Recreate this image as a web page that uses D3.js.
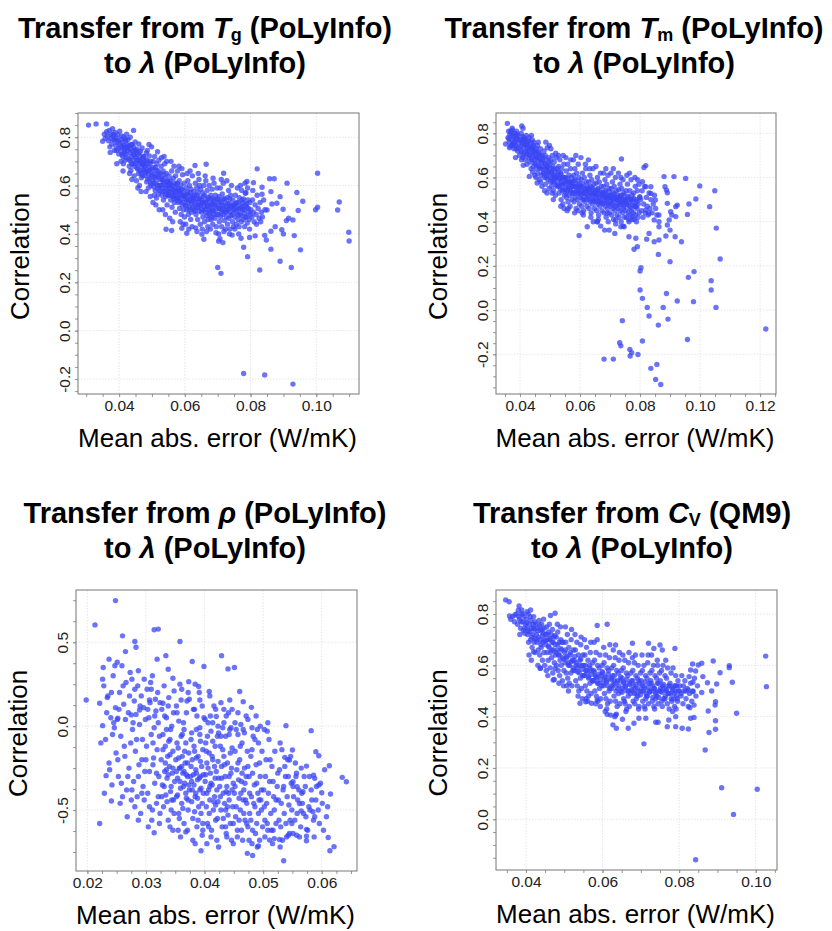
<!DOCTYPE html>
<html>
<head>
<meta charset="utf-8">
<script src="https://cdn.jsdelivr.net/npm/d3@7"></script>
<style>
body { margin: 0; background: #fff; }
svg text { font-family: "Liberation Sans", Arial, Helvetica, sans-serif; }
</style>
</head>
<body>
<svg id="chart" width="832" height="931"></svg>
<script>
// points: [mean abs. error, correlation]
var tgPoints = [
[.0355,.812],[.0358,.795],[.0362,.823],[.0365,.805],[.0368,.785],[.037,.828],[.0372,.76],[.0375,.812],[.0376,.795],[.0378,.772],[.038,.835],[.0382,.805],[.0384,.788],[.0386,.745],[.0388,.82],[.039,.765],[.0391,.798],[.0393,.69],[.0394,.778],[.0396,.81],[.0398,.752],[.0399,.73],
[.0402,.825],[.0404,.79],[.0405,.76],[.0407,.742],[.0408,.805],[.041,.778],[.0411,.72],[.0413,.69],[.0414,.8],[.0415,.765],[.0417,.748],[.0418,.705],[.042,.785],[.0421,.73],[.0423,.812],[.0424,.77],[.0412,.66],[.0419,.755],[.0406,.70],[.0416,.735],
[.0426,.745],[.0427,.79],[.0429,.71],[.043,.765],[.0431,.68],[.0433,.735],[.0434,.80],[.0435,.752],[.0437,.72],[.0438,.69],[.044,.77],[.0441,.742],[.0442,.705],[.0444,.76],[.0445,.728],[.0447,.68],[.0448,.745],[.0449,.78],[.0432,.65],[.0446,.64],[.0439,.625],[.0436,.662],
[.0451,.715],[.0452,.69],[.0454,.75],[.0455,.672],[.0456,.73],[.0458,.705],[.0459,.65],[.046,.772],[.0461,.69],[.0463,.72],[.0464,.66],[.0465,.742],[.0466,.70],[.0468,.632],[.0469,.68],[.047,.755],[.0471,.712],[.0473,.665],[.0474,.69],[.0453,.62],[.0462,.60],[.0467,.575],[.0472,.64],[.0457,.59],
[.0476,.72],[.0477,.66],[.0479,.70],[.048,.64],[.0481,.682],[.0483,.735],[.0484,.615],[.0485,.662],[.0487,.70],[.0488,.65],[.0489,.59],[.049,.68],[.0492,.722],[.0493,.63],[.0494,.665],[.0496,.61],[.0497,.70],[.0498,.64],[.0499,.76],[.0482,.575],[.0495,.555],[.0486,.745],[.0491,.77],
[.0501,.668],[.0502,.62],[.0504,.70],[.0505,.595],[.0506,.65],[.0508,.72],[.0509,.63],[.051,.58],[.0511,.675],[.0513,.61],[.0514,.548],[.0515,.69],[.0516,.64],[.0518,.60],[.0519,.66],[.052,.565],[.0521,.705],[.0523,.625],[.0524,.58],[.0503,.53],[.0512,.52],[.0517,.74],[.0522,.50],[.0507,.56],
[.0526,.65],[.0527,.60],[.0528,.68],[.053,.56],[.0531,.625],[.0532,.59],[.0534,.66],[.0535,.54],[.0536,.61],[.0538,.575],[.0539,.69],[.054,.63],[.0542,.555],[.0543,.60],[.0544,.65],[.0546,.52],[.0547,.58],[.0548,.62],[.0549,.56],[.0533,.50],[.0541,.48],[.0545,.70],[.0537,.72],[.0529,.715],
[.0551,.60],[.0552,.64],[.0553,.56],[.0555,.59],[.0556,.62],[.0557,.54],[.0559,.575],[.056,.66],[.0561,.51],[.0562,.60],[.0564,.555],[.0565,.63],[.0566,.58],[.0568,.53],[.0569,.61],[.057,.56],[.0571,.49],[.0573,.59],[.0574,.545],[.0554,.465],[.0563,.45],[.0567,.68],[.0572,.64],[.0558,.70],
[.0576,.57],[.0577,.61],[.0579,.53],[.058,.59],[.0581,.55],[.0583,.62],[.0584,.505],[.0585,.575],[.0587,.54],[.0588,.60],[.0589,.48],[.059,.56],[.0592,.52],[.0593,.645],[.0594,.58],[.0596,.50],[.0597,.555],[.0598,.61],[.0599,.47],[.0578,.66],[.0586,.45],[.0595,.44],[.0582,.68],[.0591,.67],
[.0601,.56],[.0602,.52],[.0604,.59],[.0605,.54],[.0606,.50],[.0608,.575],[.0609,.62],[.061,.53],[.0611,.48],[.0613,.56],[.0614,.60],[.0615,.51],[.0617,.545],[.0618,.46],[.0619,.585],[.062,.525],[.0621,.49],[.0623,.64],[.0624,.555],[.0603,.44],[.0612,.42],[.0616,.66],[.0622,.43],[.0607,.65],
[.0626,.54],[.0627,.575],[.0628,.50],[.063,.56],[.0631,.52],[.0632,.61],[.0634,.48],[.0635,.545],[.0636,.59],[.0638,.51],[.0639,.46],[.064,.57],[.0642,.53],[.0643,.625],[.0644,.495],[.0646,.55],[.0647,.44],[.0648,.585],[.0649,.52],[.0633,.425],[.0641,.65],[.0637,.41],[.0645,.60],
[.0651,.54],[.0652,.50],[.0654,.57],[.0655,.47],[.0656,.53],[.0658,.60],[.0659,.51],[.066,.45],[.0661,.56],[.0663,.49],[.0664,.62],[.0665,.53],[.0667,.475],[.0668,.58],[.0669,.515],[.067,.43],[.0672,.55],[.0673,.50],[.0674,.60],[.0653,.42],[.0662,.64],[.0666,.41],[.0671,.46],
[.0676,.53],[.0677,.49],[.0679,.56],[.068,.46],[.0681,.52],[.0683,.585],[.0684,.50],[.0685,.44],[.0687,.545],[.0688,.48],[.0689,.61],[.069,.52],[.0692,.465],[.0693,.56],[.0694,.50],[.0696,.43],[.0697,.54],[.0698,.59],[.0678,.42],[.0686,.63],[.0695,.405],[.0682,.47],
[.0701,.52],[.0702,.48],[.0704,.555],[.0705,.45],[.0706,.505],[.0708,.59],[.0709,.47],[.071,.535],[.0712,.43],[.0713,.50],[.0714,.565],[.0716,.48],[.0717,.61],[.0718,.515],[.072,.455],[.0721,.545],[.0722,.49],[.0724,.42],[.0703,.40],[.0711,.625],[.0719,.41],[.0707,.38],
[.0726,.51],[.0727,.47],[.0729,.55],[.073,.44],[.0731,.50],[.0733,.58],[.0734,.465],[.0735,.525],[.0737,.42],[.0738,.49],[.0739,.56],[.0741,.475],[.0742,.60],[.0743,.51],[.0745,.45],[.0746,.54],[.0748,.43],[.0749,.50],[.0736,.40],[.0744,.395],[.0728,.62],
[.0751,.52],[.0753,.47],[.0754,.56],[.0756,.49],[.0757,.44],[.0759,.53],[.076,.59],[.0762,.46],[.0763,.505],[.0765,.43],[.0766,.55],[.0768,.48],[.0769,.60],[.0771,.515],[.0772,.45],[.0774,.54],[.0752,.42],[.0764,.40],[.0773,.58],
[.0776,.50],[.0778,.46],[.0779,.545],[.0781,.485],[.0782,.43],[.0784,.52],[.0786,.57],[.0787,.47],[.0789,.51],[.079,.445],[.0792,.54],[.0794,.49],[.0796,.46],[.0798,.53],[.0783,.61],[.0791,.59],[.0797,.42],
[.0801,.50],[.0804,.47],[.0806,.54],[.0809,.49],[.0811,.45],[.0814,.52],[.0817,.48],[.082,.56],[.0823,.505],[.0826,.465],[.0829,.53],[.0833,.49],[.0836,.47],[.084,.54],[.0844,.50],[.0807,.58],[.0818,.44],[.0831,.45],
[.0383,.812],[.0387,.79],[.0392,.745],[.0397,.785],[.0403,.77],[.0409,.728],[.0413,.758],[.0419,.792],[.0422,.715],[.0427,.755],[.0433,.703],[.0437,.77],[.0443,.69],[.0446,.725],[.0451,.745],[.0454,.705],[.0457,.668],[.0461,.735],[.0464,.70],[.0467,.65],[.0471,.688],[.0474,.72],[.0477,.68],[.0481,.655],[.0484,.705],[.0487,.625],[.0491,.66],[.0494,.69],[.0497,.60],[.0501,.645],[.0504,.675],[.0507,.61],[.0511,.635],[.0514,.662],[.0517,.588],[.0521,.645],[.0524,.60],[.0527,.63],[.0531,.575],[.0534,.615],[.0537,.645],[.0541,.59],[.0544,.565],[.0547,.615],[.0551,.575],[.0554,.61],[.0557,.60],[.0561,.56],[.0564,.585],[.0567,.545],[.0571,.57],[.0574,.605],[.0577,.55],[.0581,.58],[.0584,.535],[.0587,.565],[.0591,.585],[.0594,.53],[.0597,.56],[.0601,.545],[.0604,.515],[.0607,.565],[.0611,.54],[.0614,.50],[.0617,.57],[.0621,.535],[.0624,.51],[.0627,.55],[.0631,.495],[.0634,.53],[.0637,.56],[.0641,.51],[.0644,.545],[.0647,.52],[.0651,.49],[.0654,.53],[.0657,.555],[.0661,.50],[.0664,.535],[.0667,.515],[.0671,.545],[.0674,.48],[.0677,.51],[.0681,.545],[.0684,.525],[.0687,.495],[.0691,.535],[.0694,.515],[.0697,.48],[.0701,.545],[.0704,.505],[.0707,.53],[.0711,.49],[.0714,.52],[.0717,.545],[.0721,.50],[.0724,.53],[.0727,.49],[.0731,.525],[.0734,.505],[.0737,.545],[.0741,.515],[.0744,.48],[.0747,.52],[.0751,.50],[.0754,.525],[.0757,.51],[.0761,.48],[.0764,.53],[.0767,.50],[.0771,.475],[.0774,.51],[.0777,.53],[.0781,.50],[.0785,.47],[.0788,.525],[.0793,.505],[.0799,.48],
[.0307,.85],[.033,.855],[.0362,.855],[.035,.783],[.0373,.737],[.0444,.828],[.0543,.419],[.056,.414],[.0631,.683],[.0665,.688],[.07,.261],[.071,.237],[.0718,.651],[.0779,-.177],[.0843,-.183],[.0929,-.221],[.082,.669],[.0858,.628],[.0872,.628],[.0911,.61],[.0941,.571],[.0959,.535],[.1004,.651],[.0998,.50],[.1004,.51],[.107,.532],[.1065,.499],[.1099,.407],[.11,.371],[.0952,.334],[.0933,.393],[.0924,.261],[.089,.287],[.0862,.337],[.0828,.251],[.0791,.306],[.0779,.345],[.0771,.382],[.0797,.385],[.0814,.392],[.0843,.394],[.0848,.375],[.0895,.417],[.09,.40],[.0916,.465],[.0929,.458],[.0899,.502],[.089,.554],[.0862,.575],[.0835,.593],[.0809,.612],[.0789,.617],[.0784,.568],[.0835,.564],[.0865,.524],[.085,.499],[.088,.527],[.0875,.43],[.0862,.411],[.0945,.497],[.0909,.455],[.0658,.378],[.0703,.37],[.0716,.364],[.0606,.403],[.0591,.423],[.0652,.399]
];

var tmPoints = [
[.036,.78],[.0362,.81],[.0364,.76],[.0366,.795],[.0368,.742],[.037,.80],[.0372,.77],[.0374,.815],[.0376,.75],[.0378,.785],[.038,.73],[.0382,.80],[.0384,.765],[.0386,.745],[.0388,.81],[.039,.775],[.0392,.72],[.0394,.79],[.0396,.755],[.0398,.70],[.0365,.735],[.0385,.69],
[.0401,.77],[.0403,.74],[.0404,.80],[.0406,.715],[.0407,.76],[.0409,.69],[.041,.785],[.0412,.735],[.0413,.70],[.0415,.775],[.0416,.75],[.0418,.68],[.0419,.72],[.0421,.79],[.0422,.745],[.0424,.705],[.0411,.655],[.0417,.77],[.0423,.66],[.0405,.68],
[.0426,.76],[.0427,.72],[.0429,.69],[.043,.78],[.0432,.74],[.0433,.67],[.0434,.71],[.0436,.755],[.0437,.64],[.0439,.73],[.044,.69],[.0441,.77],[.0443,.715],[.0444,.65],[.0445,.745],[.0447,.68],[.0448,.72],[.0449,.61],[.0431,.605],[.0438,.79],[.0446,.76],[.0442,.625],
[.0451,.70],[.0452,.66],[.0454,.73],[.0455,.64],[.0456,.69],[.0458,.745],[.0459,.62],[.046,.68],[.0462,.71],[.0463,.65],[.0464,.59],[.0466,.70],[.0467,.64],[.0468,.73],[.047,.61],[.0471,.67],[.0473,.56],[.0474,.70],[.0453,.60],[.0461,.76],[.0469,.58],[.0457,.575],
[.0476,.65],[.0477,.69],[.0479,.62],[.048,.72],[.0481,.60],[.0483,.66],[.0484,.70],[.0485,.57],[.0487,.64],[.0488,.68],[.0489,.61],[.0491,.735],[.0492,.65],[.0493,.59],[.0495,.69],[.0496,.625],[.0497,.55],[.0499,.66],[.0482,.54],[.049,.53],[.0498,.745],[.0486,.76],
[.0501,.64],[.0502,.60],[.0504,.68],[.0505,.56],[.0506,.62],[.0508,.70],[.0509,.58],[.051,.65],[.0512,.54],[.0513,.61],[.0514,.67],[.0516,.59],[.0517,.63],[.0518,.52],[.052,.60],[.0521,.69],[.0523,.56],[.0524,.64],[.0503,.73],[.0511,.50],[.0519,.71],[.0507,.53],
[.0526,.61],[.0527,.57],[.0529,.65],[.053,.53],[.0531,.59],[.0533,.68],[.0534,.55],[.0535,.62],[.0537,.50],[.0538,.58],[.0539,.64],[.0541,.54],[.0542,.60],[.0543,.48],[.0545,.57],[.0546,.66],[.0548,.52],[.0549,.59],[.0528,.70],[.0536,.47],[.0544,.70],[.0547,.46],
[.0551,.60],[.0552,.55],[.0554,.63],[.0555,.51],[.0556,.58],[.0558,.54],[.0559,.66],[.056,.49],[.0562,.56],[.0563,.61],[.0564,.52],[.0566,.58],[.0567,.47],[.0568,.64],[.057,.54],[.0571,.60],[.0573,.50],[.0574,.56],[.0553,.69],[.0561,.46],[.0569,.68],[.0557,.45],
[.0576,.58],[.0577,.53],[.0579,.61],[.058,.49],[.0581,.56],[.0583,.64],[.0584,.51],[.0585,.59],[.0587,.46],[.0588,.54],[.0589,.62],[.0591,.50],[.0592,.57],[.0593,.45],[.0595,.53],[.0596,.60],[.0598,.48],[.0599,.555],[.0578,.68],[.0586,.70],[.0594,.66],[.0582,.44],
[.0601,.56],[.0602,.51],[.0604,.59],[.0605,.47],[.0606,.54],[.0608,.62],[.0609,.50],[.061,.57],[.0612,.45],[.0613,.53],[.0614,.60],[.0616,.49],[.0617,.55],[.0618,.66],[.062,.51],[.0621,.58],[.0623,.47],[.0624,.54],[.0603,.69],[.0611,.43],[.0619,.64],[.0607,.44],
[.0626,.55],[.0627,.50],[.0629,.58],[.063,.46],[.0631,.53],[.0633,.61],[.0634,.49],[.0635,.56],[.0637,.44],[.0638,.52],[.0639,.59],[.0641,.48],[.0642,.545],[.0643,.64],[.0645,.50],[.0646,.57],[.0648,.46],[.0649,.53],[.0628,.68],[.0636,.42],[.0644,.40],[.0632,.64],
[.0651,.54],[.0652,.49],[.0654,.575],[.0655,.45],[.0656,.52],[.0658,.60],[.0659,.48],[.066,.55],[.0662,.43],[.0663,.51],[.0664,.58],[.0666,.47],[.0667,.54],[.0668,.62],[.067,.49],[.0671,.56],[.0673,.45],[.0674,.52],[.0653,.65],[.0661,.41],[.0669,.38],[.0657,.40],
[.0676,.53],[.0677,.48],[.0679,.56],[.068,.44],[.0681,.51],[.0683,.59],[.0684,.47],[.0685,.54],[.0687,.42],[.0688,.50],[.0689,.57],[.0691,.46],[.0692,.52],[.0693,.61],[.0695,.48],[.0696,.55],[.0698,.44],[.0699,.51],[.0678,.62],[.0686,.64],[.0694,.40],
[.0701,.52],[.0702,.47],[.0704,.55],[.0705,.43],[.0706,.50],[.0708,.58],[.0709,.46],[.071,.53],[.0712,.41],[.0713,.49],[.0714,.56],[.0716,.45],[.0717,.51],[.0718,.60],[.072,.47],[.0721,.54],[.0723,.43],[.0724,.50],[.0703,.62],[.0711,.64],[.0719,.39],
[.0726,.51],[.0727,.46],[.0729,.545],[.073,.42],[.0731,.49],[.0733,.57],[.0734,.45],[.0735,.52],[.0737,.40],[.0738,.48],[.0739,.55],[.0741,.44],[.0742,.50],[.0743,.59],[.0745,.46],[.0746,.53],[.0748,.42],[.0749,.49],[.0728,.62],[.0736,.60],[.0744,.38],
[.0751,.50],[.0752,.45],[.0754,.54],[.0755,.42],[.0757,.48],[.0758,.57],[.076,.44],[.0761,.51],[.0763,.40],[.0764,.47],[.0766,.54],[.0767,.43],[.0769,.50],[.077,.59],[.0772,.45],[.0773,.52],[.0756,.61],[.0765,.62],[.0774,.41],
[.0776,.49],[.0778,.44],[.0779,.53],[.0781,.41],[.0782,.47],[.0784,.56],[.0785,.43],[.0787,.50],[.0788,.40],[.079,.46],[.0791,.54],[.0793,.42],[.0794,.48],[.0796,.57],[.0797,.44],[.0799,.51],[.0783,.60],[.0792,.59],
[.0802,.50],[.0805,.45],[.0807,.54],[.081,.42],[.0812,.48],[.0815,.56],[.0818,.44],[.0821,.51],[.0824,.47],[.0827,.43],[.083,.53],[.0833,.46],[.0836,.50],[.084,.44],[.0844,.48],[.0848,.52],[.0852,.46],[.0856,.43],
[.0363,.775],[.0369,.81],[.0373,.745],[.0377,.79],[.0381,.76],[.0387,.73],[.0391,.795],[.0395,.735],[.0399,.77],[.0403,.72],[.0408,.755],[.0412,.78],[.0416,.71],[.0421,.75],[.0425,.73],[.0428,.765],[.0432,.70],[.0436,.735],[.0439,.68],[.0443,.74],[.0446,.705],[.0449,.665],[.0453,.72],[.0457,.69],[.0461,.655],[.0464,.71],[.0467,.675],[.0471,.64],[.0474,.68],[.0477,.62],[.0481,.665],[.0484,.635],[.0487,.60],[.0491,.645],[.0494,.62],[.0497,.67],[.0501,.58],[.0504,.625],[.0507,.60],[.0511,.64],[.0514,.58],[.0517,.605],[.0521,.565],[.0524,.60],[.0527,.625],[.0531,.56],[.0534,.595],[.0537,.615],[.0541,.57],[.0544,.545],[.0547,.60],[.0551,.575],[.0554,.53],[.0557,.595],[.0561,.555],[.0564,.58],[.0567,.545],[.0571,.575],[.0574,.525],[.0577,.56],[.0581,.585],[.0584,.535],[.0587,.56],[.0591,.525],[.0594,.55],[.0597,.575],[.0601,.535],[.0604,.52],[.0607,.56],[.0611,.53],[.0614,.50],[.0617,.545],[.0621,.525],[.0624,.56],[.0627,.515],[.0631,.545],[.0634,.50],[.0637,.53],[.0641,.555],[.0644,.52],[.0647,.495],[.0651,.53],[.0654,.51],[.0657,.545],[.0661,.49],[.0664,.525],[.0667,.50],[.0671,.53],[.0674,.485],[.0677,.515],[.0681,.535],[.0684,.495],[.0687,.52],[.0691,.485],[.0694,.51],[.0697,.535],[.0701,.49],[.0704,.515],[.0707,.48],[.0711,.505],[.0714,.525],[.0717,.47],[.0721,.50],[.0724,.52],[.0727,.485],[.0731,.505],[.0734,.475],[.0737,.515],[.0741,.49],[.0744,.52],[.0747,.47],[.0751,.50],[.0755,.48],[.0759,.515],[.0763,.49],[.0767,.46],[.0771,.50],[.0775,.475],[.0779,.505],[.0784,.47],[.0789,.49],
[.0358,.845],[.0352,.752],[.0374,.823],[.0406,.833],[.041,.823],[.0386,.785],[.0381,.752],
[.0597,.337],[.0624,.377],[.0682,.362],[.0697,.362],[.0716,.347],[.0738,.684],[.0736,.377],[.0763,.332],[.078,.275],[.0791,.287],[.0786,.325],[.0819,.654],[.0813,.645],[.0822,.321],[.083,.347],[.0847,.309],[.0861,.252],[.0863,.317],[.088,.604],[.0886,.335],[.09,.219],[.09,.362],[.0913,.604],[.0917,.332],[.0938,.309],[.0952,.596],[.0958,.433],[.0963,.48],[.0986,.503],[.0999,.562],[.1032,.468],[.1049,.54],[.1054,.371],[.1067,.231],[.098,.174],[.0961,.148],[.1037,.133],[.1037,.091],[.1053,.012],[.0978,.038],[.0924,.041],[.0888,.075],[.0877,.012],[.0893,-.041],[.0861,-.068],[.0824,.012],[.0808,.053],[.08,.091],[.0803,.192],[.08,.177],[.083,-.027],[.0741,-.048],[.0732,-.148],[.0736,-.162],[.0766,-.178],[.0772,-.193],[.0767,-.208],[.0793,-.201],[.0808,-.14],[.068,-.222],[.0711,-.222],[.0836,-.264],[.0856,-.246],[.0852,-.314],[.0869,-.337],[.0958,-.133],[.1219,-.086],
[.0819,.453],[.083,.438],[.0863,.40],[.0891,.385],[.0897,.408],[.0902,.445],[.0919,.468],[.0906,.43],[.0891,.483],[.0891,.531],[.0888,.543],[.0883,.558],[.0919,.423],[.0924,.475],[.0863,.43],[.0847,.408],[.0863,.377],[.0819,.558],[.0836,.528],[.0851,.498],[.0836,.558],[.0808,.581],[.0799,.513],[.0786,.468],[.0774,.423],[.0763,.408],[.0747,.377],[.0719,.408],[.0691,.438],[.0658,.40]
];

var rhoPoints = [
[.0228,.24],[.0231,-.08],[.0234,.17],[.0237,-.22],[.024,.05],[.0242,-.35],[.0244,.30],[.0246,-.01],[.0248,.11],[.0249,-.16],[.0235,.18],[.0245,.02],
[.0251,.04],[.0253,-.30],[.0255,.20],[.0257,-.06],[.0259,.36],[.026,-.42],[.0262,.13],[.0264,-.18],[.0266,.26],[.0268,-.54],[.027,.08],[.0271,-.25],[.0273,.32],[.0274,-.10],[.0256,-.46],[.0267,-.38],
[.0276,.28],[.0277,-.02],[.0279,-.33],[.028,.15],[.0282,-.15],[.0283,.07],[.0285,-.42],[.0286,.24],[.0288,-.23],[.0289,.01],[.0291,-.52],[.0292,.18],[.0294,-.08],[.0295,-.36],[.0296,.11],[.0298,-.27],[.0299,.04],[.0281,-.48],[.0287,.33],[.0293,-.20],
[.0301,-.12],[.0302,.22],[.0303,-.40],[.0305,.05],[.0306,-.27],[.0307,.14],[.0309,-.05],[.031,-.56],[.0311,.30],[.0313,-.19],[.0314,-.01],[.0315,-.34],[.0317,.09],[.0318,-.46],[.0319,-.14],[.032,.20],[.0322,-.30],[.0323,-.06],[.0324,-.52],[.0304,-.60],[.0312,-.23],[.0316,.16],[.0321,-.42],[.0308,.26],
[.0326,-.20],[.0327,.10],[.0328,-.35],[.0329,-.05],[.033,-.48],[.0331,.24],[.0332,-.27],[.0333,-.12],[.0334,-.41],[.0335,.05],[.0336,-.31],[.0337,-.18],[.0338,-.56],[.0339,.17],[.034,-.24],[.0341,-.08],[.0342,-.39],[.0343,-.50],[.0344,.00],[.0345,-.28],[.0346,-.15],[.0347,-.44],[.0348,.21],[.0349,-.33],[.0341,-.60],[.0335,-.02],
[.0351,-.20],[.0352,-.42],[.0353,.08],[.0354,-.31],[.0355,-.13],[.0356,-.52],[.0357,-.25],[.0358,.25],[.0359,-.37],[.036,-.06],[.0361,-.46],[.0362,-.18],[.0363,-.28],[.0364,.02],[.0365,-.58],[.0366,-.34],[.0367,-.22],[.0368,-.10],[.0369,-.43],[.037,.15],[.0371,-.30],[.0372,-.50],[.0373,-.16],[.0374,-.38],[.0355,-.62],[.0362,-.05],[.0368,-.63],[.0372,.20],[.0358,-.25],[.0365,-.27],
[.0376,-.30],[.0377,-.08],[.0378,-.45],[.0379,-.20],[.038,-.55],[.0381,.10],[.0382,-.35],[.0383,-.15],[.0384,-.42],[.0385,-.26],[.0386,-.02],[.0387,-.60],[.0388,-.32],[.0389,-.18],[.039,-.48],[.0391,.20],[.0392,-.38],[.0393,-.09],[.0394,-.52],[.0395,-.24],[.0396,-.65],[.0397,-.14],[.0398,-.40],[.0399,.05],[.038,-.68],[.0386,-.28],[.0393,-.30],[.0384,.25],
[.0401,-.33],[.0402,-.10],[.0403,-.48],[.0404,-.22],[.0405,-.58],[.0406,.02],[.0407,-.38],[.0408,-.16],[.0409,-.44],[.041,-.28],[.0411,-.03],[.0412,-.62],[.0413,-.35],[.0414,-.20],[.0415,-.50],[.0416,.12],[.0417,-.42],[.0418,-.12],[.0419,-.56],[.042,-.27],[.0421,-.68],[.0422,-.06],[.0423,-.45],[.0424,-.31],[.0404,-.70],[.041,.06],[.0417,-.24],[.0423,.00],
[.0426,-.36],[.0427,-.12],[.0428,-.50],[.0429,-.24],[.043,-.60],[.0431,-.01],[.0432,-.40],[.0433,-.18],[.0434,-.46],[.0435,-.30],[.0436,-.06],[.0437,-.64],[.0438,-.36],[.0439,-.22],[.044,-.53],[.0441,.08],[.0442,-.44],[.0443,-.02],[.0444,-.58],[.0445,-.28],[.0446,-.68],[.0447,-.13],[.0448,-.48],[.0449,-.34],[.0433,.10],[.0445,-.01],
[.0451,-.40],[.0452,-.15],[.0453,-.54],[.0455,-.26],[.0456,-.62],[.0457,-.05],[.0459,-.43],[.046,-.20],[.0461,-.50],[.0463,-.33],[.0464,-.10],[.0465,-.68],[.0467,-.38],[.0468,-.25],[.0469,-.56],[.0471,.06],[.0472,-.46],[.0473,-.15],[.0474,-.60],[.0458,-.32],[.0466,-.02],[.047,-.44],
[.0476,-.30],[.0477,-.52],[.0479,-.18],[.048,-.42],[.0482,-.62],[.0483,-.06],[.0485,-.35],[.0486,-.48],[.0488,-.23],[.0489,-.58],[.0491,-.40],[.0492,-.10],[.0494,-.68],[.0495,-.30],[.0497,-.50],[.0498,-.15],[.0481,-.70],[.049,-.02],[.0496,-.44],
[.0501,-.38],[.0503,-.56],[.0505,-.20],[.0506,-.46],[.0508,-.62],[.051,-.08],[.0511,-.33],[.0513,-.52],[.0515,-.24],[.0516,-.70],[.0518,-.42],[.052,-.15],[.0522,-.58],[.0524,-.36],[.0507,-.03],[.0519,-.67],
[.0526,-.44],[.0528,-.26],[.053,-.60],[.0532,-.14],[.0534,-.38],[.0536,-.52],[.0538,-.30],[.054,-.66],[.0542,-.20],[.0544,-.47],[.0546,-.56],[.0548,-.34],
[.0552,-.42],[.0555,-.22],[.0558,-.52],[.0561,-.38],[.0564,-.60],[.0567,-.46],[.057,-.30],[.0573,-.54],[.0565,-.25],
[.0578,-.48],[.0582,-.38],[.0586,-.56],[.059,-.44],[.0594,-.50],[.0598,-.34],
[.0331,-.36],[.0333,-.22],[.0336,-.45],[.0338,-.29],[.0341,-.17],[.0343,-.36],[.0346,-.25],[.0348,-.52],[.0339,-.09],[.0344,-.44],
[.0352,-.27],[.0354,-.41],[.0356,-.19],[.0358,-.33],[.0361,-.24],[.0363,-.49],[.0366,-.15],[.0368,-.40],[.0371,-.22],[.0373,-.35],[.0357,-.55],[.0364,-.36],[.0369,-.29],[.0353,-.10],[.0372,-.44],
[.0377,-.24],[.0379,-.38],[.0381,-.29],[.0383,-.51],[.0386,-.19],[.0388,-.43],[.0391,-.31],[.0393,-.21],[.0396,-.46],[.0398,-.29],[.0382,-.12],[.0389,-.56],[.0394,-.37],[.0378,-.33],[.0397,-.58],[.0385,-.40],[.0392,-.05],
[.0402,-.29],[.0404,-.40],[.0406,-.25],[.0408,-.52],[.0411,-.34],[.0413,-.18],[.0416,-.45],[.0418,-.31],[.0421,-.38],[.0423,-.21],[.0407,-.60],[.0414,-.09],[.0419,-.47],[.0403,-.15],[.0422,-.55],[.0409,-.36],
[.0427,-.42],[.0429,-.31],[.0432,-.55],[.0434,-.23],[.0437,-.39],[.0439,-.48],[.0442,-.30],[.0444,-.16],[.0447,-.38],[.0449,-.58],[.0431,-.14],[.0436,-.50],[.0441,-.40],[.0446,-.25],[.0428,-.06],[.0438,-.66],
[.0452,-.36],[.0454,-.48],[.0457,-.22],[.0459,-.56],[.0462,-.40],[.0464,-.28],[.0467,-.52],[.0469,-.34],[.0472,-.58],[.0474,-.24],[.0456,-.66],[.0461,-.12],[.0466,-.44],[.0471,-.30],[.0454,-.02],
[.0477,-.40],[.0479,-.56],[.0482,-.28],[.0484,-.46],[.0487,-.64],[.0489,-.34],[.0492,-.52],[.0494,-.22],[.0497,-.38],[.0499,-.60],[.0481,-.14],[.0486,-.08],[.0493,-.44],
[.0502,-.48],[.0504,-.30],[.0507,-.58],[.0509,-.40],[.0512,-.20],[.0514,-.62],[.0517,-.33],[.0519,-.50],[.0522,-.44],[.0525,-.28],[.0527,-.56],[.0529,-.10],[.0531,-.46],[.0533,-.68],[.0535,-.36],[.0537,-.24],[.0539,-.58],[.0541,-.42],[.0543,-.30],[.0545,-.64],[.0547,-.18],[.0549,-.50],
[.0551,-.36],[.0554,-.56],[.0556,-.30],[.0559,-.44],[.0562,-.66],[.0566,-.40],[.0569,-.52],[.0572,-.36],[.0576,-.62],[.0579,-.30],[.0583,-.44],[.0587,-.66],[.0591,-.36],[.0596,-.58],[.0601,-.46],[.0605,-.26],[.0608,-.54],[.0603,-.62],
[.0223,-.10],[.0226,.28],[.0229,-.40],[.0233,.08],[.0238,-.26],[.0241,.20],[.0243,-.05],[.0247,.36],[.0252,-.20],[.0254,.10],[.0258,-.34],[.0261,.24],[.0263,-.12],[.0265,.04],[.0269,-.30],[.0272,.18],[.0275,-.44],[.0278,.02],[.0281,.22],[.0284,-.08],[.0287,-.30],[.029,.12],[.0293,-.40],[.0297,.28],[.03,-.20],[.0303,.10],[.0306,-.48],[.0309,.22],[.0312,-.10],[.0315,.06],[.0318,-.28],[.0321,.02],[.0324,.14],[.0327,-.42],[.0329,-.14],[.0332,.06],[.0335,-.26],[.0338,.12],[.0342,-.02],[.0347,.08],
[.0352,.12],[.0356,.03],[.0361,.22],[.0365,-.02],[.0369,.08],[.0374,.16],[.0378,-.04],[.0383,.10],[.0387,.06],[.0392,-.01],[.0396,.12],[.0401,.04],[.0405,-.06],[.0409,.18],[.0414,.02],[.0419,.10],[.0424,-.04],[.0428,.14],[.0433,.02],[.0437,.06],[.0442,-.05],[.0447,.10],[.0452,.02],[.0457,.08],[.0462,.01],[.0468,-.04],[.0474,.04],[.0481,-.01],[.0488,.06],[.0495,.00],[.0502,-.02],[.0508,.02],
[.0346,-.62],[.0359,-.66],[.0371,-.62],[.0384,-.70],[.0397,-.62],[.0411,-.66],[.0424,-.72],[.0436,-.60],[.0449,-.70],[.0463,-.62],[.0476,-.68],[.049,-.72],[.0503,-.66],[.0517,-.62],[.0529,-.72],[.0323,-.58],[.0311,-.50],[.0297,-.44],[.0287,-.56],[.0276,-.38],
[.0248,.748],[.0213,.603],[.0198,.156],[.0221,.136],[.0227,.349],[.0237,.399],[.0251,.381],[.026,.538],[.0265,.444],[.0281,.504],[.0283,.47],[.0314,.574],[.0321,.578],[.0358,.504],[.0429,.42],[.0451,.349],[.044,.341],[.0379,.385],[.0399,.355],[.0334,.42],[.0319,.399],[.0226,.003],[.0232,-.295],[.0241,-.446],[.0221,-.58],[.0314,-.635],[.0394,-.742],[.0473,-.758],[.0482,-.771],[.0535,-.802],[.0492,-.714],[.0539,.003],[.0582,-.027],[.059,-.152],[.0595,-.176],[.0613,-.236],[.0635,-.305],[.0642,-.331],[.0615,-.404],[.061,-.48],[.0611,-.663],[.0614,-.742],[.0621,-.718],[.0574,-.238],[.0586,-.292],[.0588,-.311],[.0595,-.351],[.06,-.397],[.0562,-.461],[.0574,-.615],[.0574,-.655],[.0574,-.683],[.0549,-.58],[.0551,-.64],[.0557,-.65],[.0543,-.65],[.0528,-.675],[.0511,-.679],[.055,-.142],[.0537,-.186],[.0545,-.202],[.0557,-.281],[.0551,-.331],[.0558,-.361],[.0568,-.391],[.058,-.50],[.0585,-.51],[.0588,-.54],[.0565,-.505],
[.0338,.339],[.0346,.285],[.0373,.265],[.039,.236],[.0408,.206],[.0443,.156],[.046,.206],[.0466,.146],[.048,.112],[.042,.057],[.0392,.156],[.036,.156],[.0329,.136],[.0306,.156],[.0289,.096],[.0275,.067],[.0252,.047]
];

var cvPoints = [
[.0365,.79],[.037,.77],[.0375,.80],[.0378,.76],[.038,.815],[.0383,.78],[.0386,.745],[.0388,.80],[.0391,.77],[.0393,.735],[.0395,.79],[.0398,.76],[.0384,.72],
[.0401,.78],[.0403,.745],[.0404,.72],[.0406,.80],[.0407,.69],[.0409,.76],[.041,.73],[.0412,.70],[.0413,.775],[.0415,.745],[.0416,.67],[.0418,.72],[.0419,.76],[.0421,.69],[.0422,.74],[.0424,.65],[.0408,.64],[.042,.79],[.0414,.62],[.0423,.705],
[.0426,.76],[.0427,.72],[.0429,.69],[.043,.745],[.0432,.66],[.0433,.71],[.0434,.775],[.0436,.64],[.0437,.70],[.0439,.735],[.044,.67],[.0441,.76],[.0443,.62],[.0444,.69],[.0445,.725],[.0447,.65],[.0448,.70],[.0449,.60],[.0431,.60],[.0438,.59],[.0446,.78],[.0442,.74],
[.0451,.72],[.0452,.68],[.0454,.75],[.0455,.65],[.0456,.70],[.0458,.62],[.0459,.73],[.046,.67],[.0462,.70],[.0463,.59],[.0464,.65],[.0466,.72],[.0467,.63],[.0468,.69],[.047,.57],[.0471,.66],[.0473,.71],[.0474,.61],[.0453,.58],[.0461,.76],[.0469,.74],[.0457,.56],
[.0476,.68],[.0477,.64],[.0479,.71],[.048,.60],[.0481,.66],[.0483,.73],[.0484,.58],[.0485,.64],[.0487,.69],[.0488,.56],[.0489,.62],[.0491,.70],[.0492,.60],[.0493,.66],[.0495,.54],[.0496,.63],[.0497,.69],[.0499,.58],[.0482,.76],[.049,.75],[.0498,.52],[.0486,.53],
[.0501,.65],[.0502,.61],[.0504,.69],[.0505,.57],[.0506,.63],[.0508,.72],[.0509,.55],[.051,.61],[.0512,.67],[.0513,.53],[.0514,.60],[.0516,.65],[.0517,.57],[.0518,.70],[.052,.52],[.0521,.62],[.0523,.58],[.0524,.66],[.0503,.75],[.0511,.50],[.0519,.74],[.0507,.52],
[.0526,.62],[.0527,.58],[.0529,.66],[.053,.54],[.0531,.60],[.0533,.69],[.0534,.52],[.0535,.59],[.0537,.64],[.0538,.50],[.0539,.57],[.0541,.62],[.0542,.55],[.0543,.68],[.0545,.51],[.0546,.60],[.0548,.56],[.0549,.64],[.0528,.72],[.0536,.48],[.0544,.71],[.0547,.47],
[.0551,.60],[.0552,.56],[.0554,.64],[.0555,.52],[.0556,.58],[.0558,.67],[.0559,.50],[.056,.57],[.0562,.62],[.0563,.48],[.0564,.55],[.0566,.60],[.0567,.53],[.0568,.65],[.057,.49],[.0571,.58],[.0573,.54],[.0574,.61],[.0553,.70],[.0561,.46],[.0569,.69],[.0557,.47],
[.0576,.58],[.0577,.54],[.0579,.62],[.058,.50],[.0581,.56],[.0583,.65],[.0584,.48],[.0585,.55],[.0587,.60],[.0588,.46],[.0589,.53],[.0591,.59],[.0592,.51],[.0593,.64],[.0595,.47],[.0596,.56],[.0598,.52],[.0599,.60],[.0578,.69],[.0586,.70],[.0594,.44],[.0582,.45],
[.0601,.57],[.0602,.53],[.0604,.61],[.0605,.49],[.0606,.55],[.0608,.64],[.0609,.47],[.061,.54],[.0612,.59],[.0613,.45],[.0614,.52],[.0616,.58],[.0617,.50],[.0618,.63],[.062,.46],[.0621,.55],[.0623,.51],[.0624,.59],[.0603,.67],[.0611,.43],[.0619,.68],[.0607,.42],
[.0626,.56],[.0627,.52],[.0629,.60],[.063,.48],[.0631,.54],[.0633,.63],[.0634,.46],[.0635,.53],[.0637,.58],[.0638,.44],[.0639,.51],[.0641,.57],[.0642,.49],[.0643,.62],[.0645,.45],[.0646,.54],[.0648,.50],[.0649,.58],[.0628,.66],[.0636,.41],[.0644,.65],[.0632,.40],
[.0651,.55],[.0652,.51],[.0654,.59],[.0655,.47],[.0656,.53],[.0658,.62],[.0659,.45],[.066,.52],[.0662,.57],[.0663,.43],[.0664,.50],[.0666,.56],[.0667,.48],[.0668,.61],[.067,.44],[.0671,.53],[.0673,.49],[.0674,.57],[.0653,.64],[.0661,.42],[.0669,.65],[.0657,.46],
[.0676,.54],[.0677,.50],[.0679,.58],[.068,.46],[.0681,.52],[.0683,.61],[.0684,.45],[.0685,.51],[.0687,.56],[.0688,.47],[.0689,.49],[.0691,.55],[.0692,.48],[.0693,.60],[.0695,.44],[.0696,.53],[.0698,.50],[.0699,.57],[.0678,.63],[.0686,.64],[.0694,.43],
[.0701,.54],[.0702,.50],[.0704,.58],[.0705,.46],[.0706,.52],[.0708,.60],[.0709,.44],[.071,.51],[.0712,.56],[.0713,.47],[.0714,.49],[.0716,.55],[.0717,.48],[.0718,.61],[.072,.45],[.0721,.53],[.0723,.50],[.0724,.57],[.0703,.64],[.0711,.43],[.0719,.64],
[.0726,.54],[.0727,.50],[.0729,.58],[.073,.46],[.0731,.52],[.0733,.60],[.0734,.44],[.0735,.51],[.0737,.56],[.0738,.47],[.0739,.49],[.0741,.55],[.0742,.48],[.0743,.62],[.0745,.45],[.0746,.53],[.0748,.50],[.0749,.57],[.0728,.64],[.0736,.43],[.0744,.60],
[.0751,.54],[.0752,.50],[.0754,.58],[.0755,.46],[.0757,.52],[.0758,.60],[.076,.47],[.0761,.51],[.0763,.56],[.0764,.48],[.0766,.50],[.0767,.55],[.0769,.45],[.077,.59],[.0772,.52],[.0773,.49],[.0756,.44],[.0765,.62],[.0774,.43],
[.0776,.53],[.0778,.49],[.0779,.57],[.0781,.46],[.0782,.51],[.0784,.59],[.0785,.47],[.0787,.52],[.0788,.44],[.079,.50],[.0791,.56],[.0793,.48],[.0794,.52],[.0796,.46],[.0797,.54],[.0799,.50],[.0783,.42],[.0792,.43],
[.0802,.52],[.0805,.48],[.0807,.56],[.081,.45],[.0812,.50],[.0815,.54],[.0818,.47],[.0821,.51],[.0824,.44],[.0827,.49],[.083,.53],[.0833,.46],[.0836,.50],[.084,.55],[.0844,.48],[.0848,.52],
[.0381,.79],[.0387,.77],[.0392,.80],[.0397,.745],[.0402,.765],[.0406,.735],[.0411,.79],[.0415,.71],[.0419,.745],[.0423,.77],[.0427,.70],[.0431,.735],[.0435,.755],[.0439,.68],[.0443,.715],[.0447,.745],[.0451,.695],[.0455,.72],[.0459,.675],[.0463,.705],[.0467,.66],[.0471,.69],[.0475,.715],[.0479,.65],[.0483,.68],[.0487,.64],[.0491,.665],[.0495,.69],[.0499,.625],[.0503,.66],[.0507,.635],[.0511,.60],[.0515,.64],[.0519,.615],[.0523,.59],[.0527,.635],[.0531,.61],[.0535,.575],[.0539,.60],[.0543,.625],[.0547,.585],[.0551,.56],[.0555,.60],[.0559,.58],[.0563,.555],[.0567,.59],[.0571,.565],[.0575,.54],[.0579,.575],[.0583,.555],[.0587,.53],[.0591,.565],[.0595,.545],[.0599,.575],[.0603,.52],[.0607,.555],[.0611,.535],[.0615,.565],[.0619,.51],[.0623,.545],[.0627,.525],[.0631,.56],[.0635,.50],[.0639,.54],[.0643,.52],[.0647,.555],[.0651,.495],[.0655,.535],[.0659,.515],[.0663,.545],[.0667,.50],[.0671,.525],[.0675,.505],[.0679,.54],[.0683,.49],[.0687,.525],[.0691,.51],[.0695,.54],[.0699,.485],[.0703,.52],[.0707,.50],[.0711,.535],[.0715,.48],[.0719,.515],[.0723,.495],[.0727,.53],[.0731,.475],[.0735,.51],[.0739,.495],[.0743,.53],[.0747,.475],[.0751,.51],[.0755,.495],[.0759,.525],[.0763,.47],[.0767,.505],[.0771,.49],[.0775,.52],[.0779,.47],[.0783,.505],[.0787,.49],[.0791,.52],[.0795,.47],[.0799,.50],[.0805,.49],[.0811,.52],[.0817,.50],
[.0347,.855],[.0356,.848],[.036,.779],[.0357,.792],[.0371,.796],[.0382,.831],[.0389,.816],[.0397,.725],[.0403,.809],[.0412,.816],[.0464,.794],[.0476,.803],[.0586,.755],[.0612,.76],[.0708,.294],[.0868,.27],[.0911,.123],[.1004,.117],[.0942,.019],[.0843,-.158],[.1026,.636],[.1028,.517],[.095,.413],[.0939,.534],[.0931,.599],[.0931,.591],[.0907,.571],[.0898,.527],[.0889,.617],[.0895,.458],[.0894,.445],[.0895,.384],[.0895,.351],[.0878,.338],[.0876,.422],[.0885,.50],[.0874,.532],[.0859,.608],[.085,.601],[.0862,.556],[.0859,.494],[.0835,.605],[.0843,.578],[.083,.582],[.0826,.556],[.0836,.534],[.0824,.504],[.0836,.497],[.0839,.445],[.0828,.435],[.0839,.397],[.083,.394],[.0824,.352],[.0808,.355],[.0791,.361],[.0791,.40],[.0769,.361],[.0773,.387],[.0745,.378],[.0739,.378],[.0713,.394],[.0695,.394],[.0682,.374],[.0667,.355],[.0636,.355],[.0627,.368],[.0652,.39],[.0612,.409],[.0621,.406],[.0634,.406],[.0541,.452],[.0556,.458],[.0571,.452],[.0586,.465],[.0471,.543],[.0474,.545],[.042,.653],[.0437,.588],[.0476,.588],[.0734,.666],[.0756,.66],[.0789,.666],[.072,.686],[.075,.679],[.0678,.686],[.0634,.679]
];

// tick values per panel
var tgXTicks = [0.04, 0.06, 0.08, 0.10], tgYTicks = [-0.2, 0, 0.2, 0.4, 0.6, 0.8];
var tmXTicks = [0.04, 0.06, 0.08, 0.10, 0.12], tmYTicks = [-0.2, 0, 0.2, 0.4, 0.6, 0.8];
var rhoXTicks = [0.02, 0.03, 0.04, 0.05, 0.06], rhoYTicks = [-0.5, 0, 0.5];
var cvXTicks = [0.04, 0.06, 0.08, 0.10], cvYTicks = [0, 0.2, 0.4, 0.6, 0.8];

var panels = [
  { points: tgPoints, src: "T", sub: "g", origin: "PoLyInfo", left: 78, top: 113, w: 281, h: 281,
    xDomain: [0.0275, 0.113], yDomain: [-0.262, 0.90], xTicks: tgXTicks, yTicks: tgYTicks, xMinor: 0.005, yMinor: 0.05, titleX: 205, titleY: 38 },
  { points: tmPoints, src: "T", sub: "m", origin: "PoLyInfo", left: 496, top: 113, w: 280, h: 281,
    xDomain: [0.032, 0.1253], yDomain: [-0.38, 0.892], xTicks: tmXTicks, yTicks: tmYTicks, xMinor: 0.005, yMinor: 0.05, titleX: 634, titleY: 38 },
  { points: rhoPoints, src: "\u03c1", sub: "", origin: "PoLyInfo", left: 76, top: 590, w: 281, h: 281,
    xDomain: [0.01806, 0.06602], yDomain: [-0.863, 0.811], xTicks: rhoXTicks, yTicks: rhoYTicks, xMinor: 0.0025, yMinor: 0.125, titleX: 205, titleY: 523 },
  { points: cvPoints, src: "C", sub: "V", origin: "QM9", left: 496, top: 590, w: 281, h: 280,
    xDomain: [0.03217, 0.10556], yDomain: [-0.1977, 0.8936], xTicks: cvXTicks, yTicks: cvYTicks, xMinor: 0.005, yMinor: 0.05, titleX: 632, titleY: 523 }
];

var svg = d3.select("#chart");

function minorTicks(domain, step) {
  var out = [];
  for (var k = Math.ceil(domain[0] / step - 1e-9); k * step <= domain[1] + 1e-12; k++) out.push(k * step);
  return out;
}

panels.forEach(function(p) {
  var x = d3.scaleLinear().domain(p.xDomain).range([0, p.w]);
  var y = d3.scaleLinear().domain(p.yDomain).range([p.h, 0]);

  // title, two lines
  var title = svg.append("text")
    .attr("x", p.titleX).attr("y", p.titleY)
    .attr("text-anchor", "middle")
    .style("font-size", "29px").style("font-weight", "bold").style("fill", "#000");
  title.append("tspan").text("Transfer from ");
  title.append("tspan").style("font-style", "italic").text(p.src);
  if (p.sub) {
    title.append("tspan").attr("dy", 3).style("font-size", "18px").text(p.sub);
    title.append("tspan").attr("dy", -3).text(" (" + p.origin + ")");
  } else {
    title.append("tspan").text(" (" + p.origin + ")");
  }
  var title2 = svg.append("text")
    .attr("x", p.titleX).attr("y", p.titleY + 35)
    .attr("text-anchor", "middle")
    .style("font-size", "29px").style("font-weight", "bold").style("fill", "#000");
  title2.append("tspan").text("to ");
  title2.append("tspan").style("font-style", "italic").text("\u03bb");
  title2.append("tspan").text(" (PoLyInfo)");

  var g = svg.append("g").attr("transform", "translate(" + p.left + "," + p.top + ")");

  // faint grid at the major ticks
  g.selectAll("line.gx").data(p.xTicks).enter().append("line")
    .attr("x1", function(d) { return x(d); }).attr("x2", function(d) { return x(d); })
    .attr("y1", 0).attr("y2", p.h)
    .attr("stroke", "#e6e6e6").attr("stroke-dasharray", "1.5,1.5");
  g.selectAll("line.gy").data(p.yTicks).enter().append("line")
    .attr("y1", function(d) { return y(d); }).attr("y2", function(d) { return y(d); })
    .attr("x1", 0).attr("x2", p.w)
    .attr("stroke", "#e6e6e6").attr("stroke-dasharray", "1.5,1.5");

  // minor ticks
  var xm = g.append("g").attr("transform", "translate(0," + p.h + ")")
    .call(d3.axisBottom(x).tickValues(minorTicks(p.xDomain, p.xMinor)).tickSize(3).tickFormat(""));
  var ym = g.append("g")
    .call(d3.axisLeft(y).tickValues(minorTicks(p.yDomain, p.yMinor)).tickSize(3).tickFormat(""));
  [xm, ym].forEach(function(a) {
    a.select(".domain").remove();
    a.selectAll("line").attr("stroke", "#999");
  });

  // labelled axes
  var xa = g.append("g").attr("transform", "translate(0," + p.h + ")")
    .call(d3.axisBottom(x).tickValues(p.xTicks).tickSize(3).tickPadding(3)
      .tickFormat(function(d) { return d.toFixed(2); }));
  var ya = g.append("g")
    .call(d3.axisLeft(y).tickValues(p.yTicks).tickSize(3)
      .tickFormat(function(d) { return (Math.abs(d) < 1e-9 ? 0 : d).toFixed(1); }));
  [xa, ya].forEach(function(a) {
    a.select(".domain").remove();
    a.selectAll("line").attr("stroke", "#999");
    a.selectAll("text").style("font-size", "15.5px").style("fill", "#222")
      .style("font-family", "'Liberation Sans', Arial, Helvetica, sans-serif");
  });
  ya.selectAll("text")
    .attr("transform", "rotate(-90)")
    .attr("x", 0).attr("y", -8).attr("dy", 0)
    .attr("text-anchor", "middle");

  // points
  g.selectAll("circle").data(p.points).enter().append("circle")
    .attr("cx", function(d) { return x(d[0]); })
    .attr("cy", function(d) { return y(d[1]); })
    .attr("r", 2.7)
    .attr("fill", "rgb(58,70,244)")
    .attr("fill-opacity", 0.75);

  // frame
  g.append("rect").attr("width", p.w).attr("height", p.h)
    .attr("fill", "none").attr("stroke", "#777").attr("stroke-width", 1);

  // axis titles
  g.append("text")
    .attr("transform", "translate(" + (-49) + "," + (p.h / 2 + 3) + ") rotate(-90)")
    .attr("text-anchor", "middle")
    .style("font-size", "26px").style("fill", "#000")
    .text("Correlation");
  g.append("text")
    .attr("x", p.w / 2 - 1).attr("y", p.h + 53)
    .attr("text-anchor", "middle")
    .style("font-size", "26px").style("fill", "#000")
    .text("Mean abs. error (W/mK)");
});
</script>
</body>
</html>
